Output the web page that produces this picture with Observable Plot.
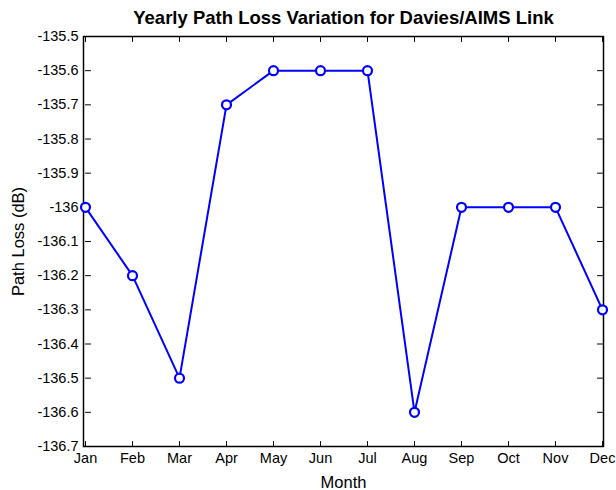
<!DOCTYPE html>
<html>
<head>
<meta charset="utf-8">
<script src="https://cdn.jsdelivr.net/npm/d3@7"></script>
<script src="https://cdn.jsdelivr.net/npm/@observablehq/plot@0.6"></script>
<style>
  html, body { margin: 0; padding: 0; background: #fff; }
  #chart { width: 616px; height: 490px; }
  svg { font-family: "Liberation Sans", Arial, Helvetica, sans-serif; }
</style>
</head>
<body>
<div id="chart"></div>
<script>
const months = ["Jan","Feb","Mar","Apr","May","Jun","Jul","Aug","Sep","Oct","Nov","Dec"];
const pathLoss = [-136.0, -136.2, -136.5, -135.7, -135.6, -135.6, -135.6, -136.6, -136.0, -136.0, -136.0, -136.3];
const yTicks = [-135.5, -135.6, -135.7, -135.8, -135.9, -136.0, -136.1, -136.2, -136.3, -136.4, -136.5, -136.6, -136.7];
const titleText = "Yearly Path Loss Variation for Davies/AIMS Link";
const xLabel = "Month";
const yLabel = "Path Loss (dB)";

const data = months.map((m, i) => ({month: m, value: pathLoss[i]}));
const fmt = d => String(+d.toFixed(1));
const yMin = yTicks[yTicks.length - 1], yMax = yTicks[0];
const tickShape = {draw(context, l) { context.moveTo(0, 0); context.lineTo(0, -l); }};
const tickStyle = {length: 5, anchor: "start", shape: tickShape, stroke: "#000", strokeWidth: 1};

const chart = Plot.plot({
  width: 616,
  height: 490,
  marginLeft: 83,
  marginRight: 13,
  marginTop: 36,
  marginBottom: 44,
  style: {fontFamily: '"Liberation Sans", Arial, sans-serif', background: "#fff", color: "#000"},
  x: {type: "point", domain: months, padding: 0},
  y: {domain: [yMin, yMax]},
  marks: [
    Plot.axisX({anchor: "bottom", tickSize: 0, tickPadding: 6, fontSize: 14.5, label: null}),
    Plot.axisY({anchor: "left", ticks: yTicks, tickSize: 0, tickPadding: 5, tickFormat: fmt, fontSize: 14.5, label: null}),
    // inward ticks on all four sides
    Plot.vector(yTicks, {x: () => months[0], y: d => d, rotate: 90, ...tickStyle}),
    Plot.vector(yTicks, {x: () => months[months.length - 1], y: d => d, rotate: -90, ...tickStyle}),
    Plot.vector(months, {x: d => d, y: () => yMin, rotate: 0, ...tickStyle}),
    Plot.vector(months, {x: d => d, y: () => yMax, rotate: 180, ...tickStyle}),
    Plot.frame({stroke: "#000", strokeWidth: 1.5}),
    Plot.line(data, {x: "month", y: "value", stroke: "#0000ff", strokeWidth: 2}),
    Plot.dot(data, {x: "month", y: "value", r: 4.5, stroke: "#0000ff", strokeWidth: 2.2, fill: "#fff"}),
    Plot.text([titleText], {frameAnchor: "top", lineAnchor: "middle", dy: -18, fontSize: 18.5, fontWeight: "bold", fill: "#000"}),
    Plot.text([xLabel], {frameAnchor: "bottom", lineAnchor: "middle", dy: 36, fontSize: 16.5, fill: "#000"}),
    Plot.text([yLabel], {frameAnchor: "left", textAnchor: "middle", lineAnchor: "middle", dx: -65, rotate: -90, fontSize: 16.5, fill: "#000"})
  ]
});
document.getElementById("chart").appendChild(chart);
</script>
</body>
</html>
